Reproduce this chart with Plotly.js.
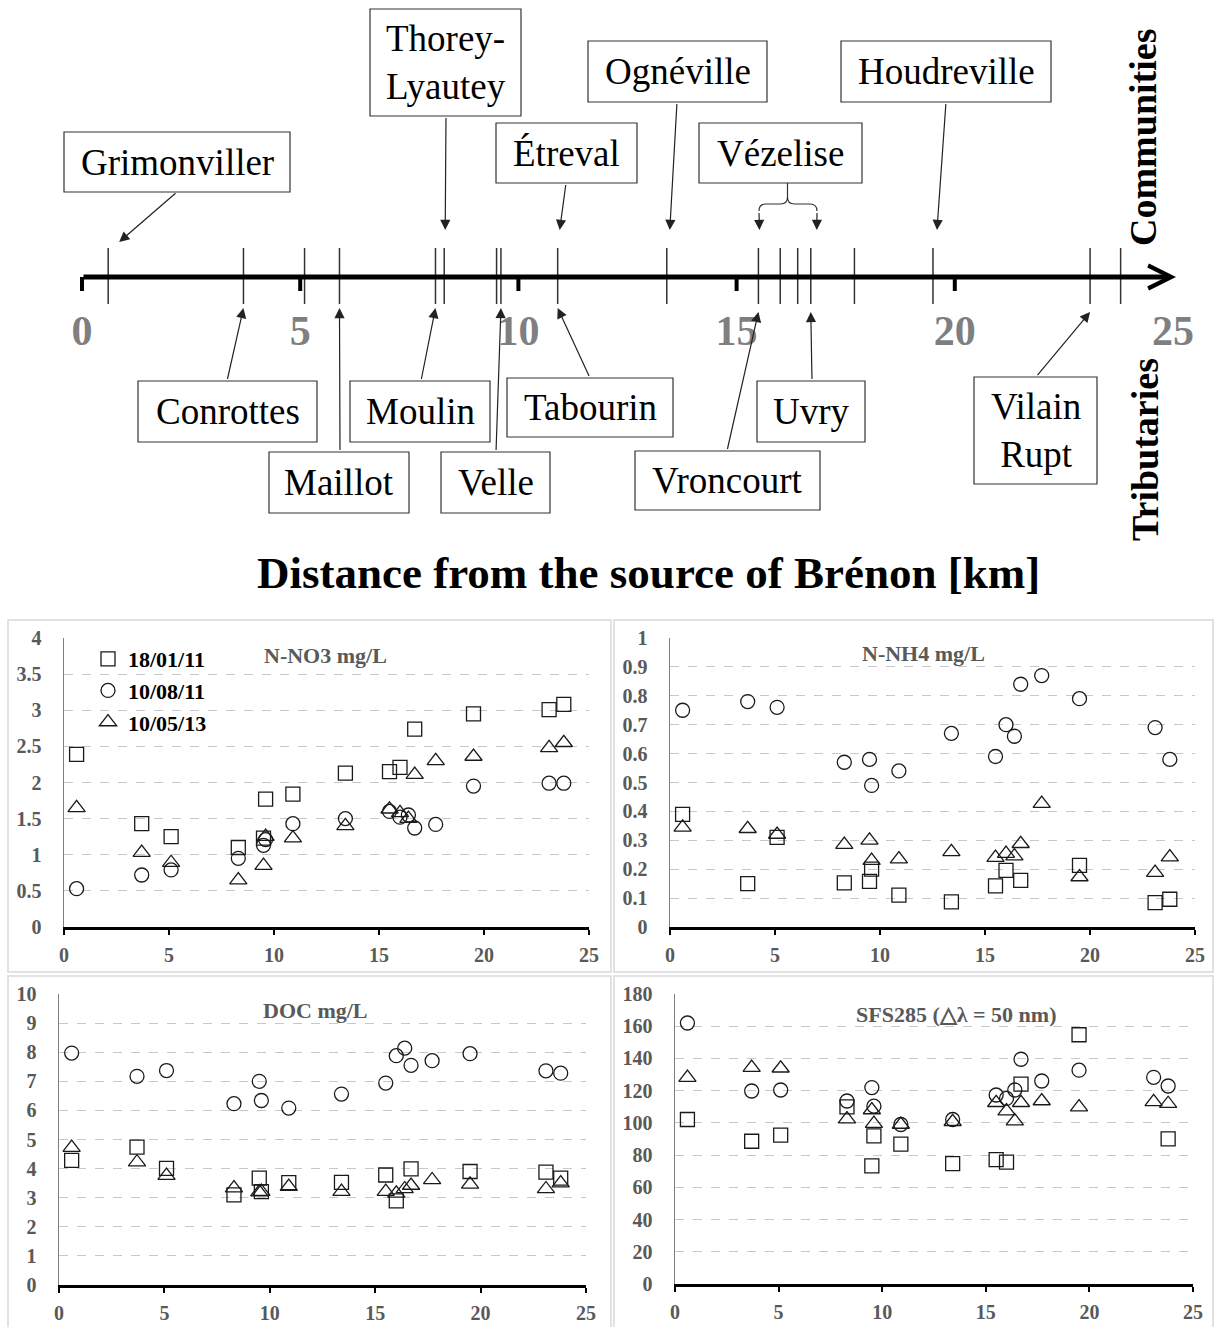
<!DOCTYPE html>
<html><head><meta charset="utf-8">
<script src="https://cdn.plot.ly/plotly-3.0.1.min.js"></script>
<style>html,body{margin:0;padding:0;background:#fff}#chart{width:1215px;height:1327px}</style>
</head><body><div id="chart"></div>
<script>
// ---------------- DATA ----------------
const siteKm = [0.6, 3.7, 5.1, 8.3, 9.5, 9.6, 10.9, 13.4, 15.5, 16.0, 16.4, 16.7, 17.7, 19.5, 23.1, 23.8];
const dates = ['18/01/11', '10/08/11', '10/05/13'];

const no3_180111 = [2.39, 1.43, 1.25, 1.10, 1.23, 1.77, 1.84, 2.13, 2.15, 2.21, null, 2.74, null, 2.95, 3.01, 3.08];
const no3_100811 = [0.53, 0.72, 0.79, 0.95, 1.13, 1.21, 1.43, 1.50, 1.60, 1.52, 1.55, 1.37, 1.42, 1.95, 1.99, 1.99];
const no3_100513 = [1.65, 1.03, 0.89, 0.65, 0.85, 1.25, 1.23, 1.40, 1.63, 1.58, 1.50, 2.11, 2.30, 2.36, 2.48, 2.55];

const nh4_180111 = [0.39, 0.15, 0.31, 0.153, 0.158, 0.20, 0.11, 0.087, 0.142, 0.196, null, 0.161, null, 0.213, 0.084, 0.096];
const nh4_100811 = [0.75, 0.78, 0.76, 0.57, 0.58, 0.49, 0.54, 0.67, 0.59, 0.70, 0.66, 0.84, 0.87, 0.79, 0.69, 0.58];
const nh4_100513 = [0.345, 0.34, 0.32, 0.285, 0.30, 0.23, 0.235, 0.26, 0.24, 0.254, 0.245, 0.288, 0.427, 0.173, 0.188, 0.242];

const doc_180111 = [4.28, 4.74, 4.01, 3.10, 3.67, 3.21, 3.52, 3.53, 3.78, 2.89, null, 3.99, null, 3.90, 3.88, 3.67];
const doc_100811 = [7.97, 7.17, 7.37, 6.23, 7.00, 6.34, 6.08, 6.56, 6.94, 7.88, 8.14, 7.55, 7.71, 7.95, 7.36, 7.28];
const doc_100513 = [4.72, 4.22, 3.76, 3.33, 3.19, 3.21, 3.38, 3.21, 3.21, 3.15, 3.30, 3.42, 3.61, 3.46, 3.30, 3.50];

const sfs_180111 = [102.1, 88.6, 92.4, 110.0, 73.3, 92.0, 86.8, 74.7, 77.2, 75.6, null, 124.1, null, 154.7, null, 90.1];
const sfs_100811 = [162.0, 119.8, 120.4, 113.6, 121.9, 110.4, 99.0, 102.1, 117.3, 115.2, 120.4, 139.5, 126.0, 132.7, 128.3, 122.9];
const sfs_100513 = [128.1, 134.3, 133.9, 102.3, 108.0, 99.6, 99.0, 100.7, 112.5, 107.3, 101.1, 112.5, 113.6, 109.8, 113.1, 111.9];

const panelTitles = ['N-NO3 mg/L', 'N-NH4 mg/L', 'DOC mg/L', 'SFS285 (△λ = 50 nm)'];

// schematic of the river
const tickKm = [0.6, 3.7, 5.1, 5.9, 8.1, 8.3, 9.5, 9.6, 10.9, 13.4, 15.5, 16.0, 16.4, 16.7, 17.7, 19.5, 23.1, 23.8];
const kmTicks = [0, 5, 10, 15, 20, 25];
const communities = ['Grimonviller', 'Thorey-<br>Lyautey', 'Étreval', 'Ognéville', 'Vézelise', 'Houdreville'];
const communityKm = [[0.6], [8.3], [10.9], [13.4], [15.5, 16.7], [19.5]];
const tributaries = ['Conrottes', 'Maillot', 'Moulin', 'Velle', 'Tabourin', 'Vroncourt', 'Uvry', 'Vilain<br>Rupt'];
const tributaryKm = [3.7, 5.9, 8.1, 9.6, 10.9, 15.5, 16.7, 23.1];
const diagramTitle = 'Distance from the source of Brénon [km]';

// ---------------- LAYOUT HELPERS (pixel geometry) ----------------
const W = 1215, H = 1327;
const F = 'Liberation Serif, "Times New Roman", serif';
const KM0 = 82, PXKM = 43.64;          // river axis: px = KM0 + km*PXKM
const kmOf = px => (px - KM0) / PXKM;
const pxOf = km => KM0 + km * PXKM;
const AXY = 277;                       // river axis y (px)

const communityBoxes = [
  {x0: 64, x1: 290, y0: 132, y1: 192, tails: [[177, 192]], tipY: 242, dx: [11]},
  {x0: 370, x1: 521, y0: 9, y1: 116, tails: [[446, 116]], tipY: 230, dx: [1]},
  {x0: 496, x1: 637, y0: 123, y1: 183, tails: [[566, 183]], tipY: 230, dx: [2]},
  {x0: 588, x1: 767, y0: 41, y1: 102, tails: [[677, 102]], tipY: 230, dx: [3]},
  {x0: 699, x1: 862, y0: 123, y1: 183, tails: [[759, 211], [817, 211]], tipY: 230, dx: [1, 6], brace: true},
  {x0: 841, x1: 1051, y0: 41, y1: 102, tails: [[946, 102]], tipY: 230, dx: [4]}
];
const tributaryBoxes = [
  {x0: 138, x1: 317, y0: 381, y1: 442, tail: [227, 381], tipY: 308},
  {x0: 269, x1: 409, y0: 452, y1: 513, tail: [340, 452], tipY: 308},
  {x0: 350, x1: 490, y0: 381, y1: 442, tail: [421, 381], tipY: 308},
  {x0: 441, x1: 550, y0: 452, y1: 513, tail: [496, 452], tipY: 308},
  {x0: 507, x1: 673, y0: 378, y1: 437, tail: [590, 378], tipY: 308},
  {x0: 635, x1: 820, y0: 451, y1: 510, tail: [727, 451], tipY: 312},
  {x0: 757, x1: 865, y0: 381, y1: 442, tail: [812, 381], tipY: 312},
  {x0: 974, x1: 1097, y0: 377, y1: 484, tail: [1036, 377], tipY: 312}
];

// panel plot areas in px: [xLeft, xRight], [yTop, yBottom]
const panelPx = [
  {x: [64, 589], y: [638, 927], range: [0, 4], dtick: 0.5, title: [325, 655]},
  {x: [670, 1195], y: [638, 927], range: [0, 1], dtick: 0.1, title: [923, 653]},
  {x: [59, 586], y: [994, 1285], range: [0, 10], dtick: 1, title: [315, 1010]},
  {x: [675, 1193], y: [994, 1284], range: [0, 180], dtick: 20, title: [956, 1015]}
];
const panelFrames = [[8, 611, 620, 972], [614, 1213, 620, 972], [8, 611, 976, 1330], [614, 1213, 976, 1330]];

// ---------------- TRACES ----------------
const traces = [];
const sym = ['square-open', 'circle-open', 'triangle-up-open'];
const msize = [14, 14, 15];
const series = [
  [no3_180111, no3_100811, no3_100513],
  [nh4_180111, nh4_100811, nh4_100513],
  [doc_180111, doc_100811, doc_100513],
  [sfs_180111, sfs_100811, sfs_100513]
];
series.forEach((set, pi) => {
  const sfx = pi === 0 ? '' : String(pi + 1);
  set.forEach((vals, di) => {
    traces.push({
      type: 'scatter', mode: 'markers', x: siteKm, y: vals,
      xaxis: 'x' + sfx, yaxis: 'y' + sfx,
      name: dates[di], legendgroup: dates[di], showlegend: pi === 0,
      marker: {symbol: sym[di], size: msize[di], color: '#1a1a1a', line: {width: 1.3, color: '#1a1a1a'}},
      cliponaxis: false
    });
  });
});
// river tick marks (tributaries / communities positions)
const tx = [], ty = [];
tickKm.forEach(k => { tx.push(k, k, null); ty.push(248, 304, null); });
traces.push({type: 'scatter', mode: 'lines', x: tx, y: ty, xaxis: 'x5', yaxis: 'y5',
  line: {color: '#333', width: 1.5}, showlegend: false, hoverinfo: 'skip'});

// ---------------- LAYOUT ----------------
const layout = {
  width: W, height: H, margin: {l: 0, r: 0, t: 0, b: 0},
  paper_bgcolor: '#fff', plot_bgcolor: 'rgba(0,0,0,0)',
  font: {family: F},
  showlegend: true,
  legend: {x: 88 / W, y: (H - 638) / H, xanchor: 'left', yanchor: 'top',
    bgcolor: 'rgba(0,0,0,0)', itemwidth: 30, tracegroupgap: 0,
    font: {family: F, size: 22, color: '#000', weight: 'bold'}},
  shapes: [], annotations: []
};

const tickFont = {family: F, size: 20, color: '#595959', weight: 'bold'};
panelPx.forEach((p, i) => {
  const sfx = i === 0 ? '' : String(i + 1);
  const xd = [p.x[0] / W, p.x[1] / W];
  const yd = [(H - p.y[1]) / H, (H - p.y[0]) / H];
  layout['xaxis' + sfx] = {domain: xd, range: [0, 25], anchor: 'y' + sfx,
    tickvals: [0, 5, 10, 15, 20, 25], ticks: 'outside', ticklen: 5, tickwidth: 2, tickcolor: '#000',
    showline: true, linecolor: '#000', linewidth: 2.5, showgrid: false, zeroline: false,
    tickfont: tickFont, ticklabelstandoff: 3, fixedrange: true};
  layout['yaxis' + sfx] = {domain: yd, range: p.range, anchor: 'x' + sfx,
    tick0: 0, dtick: p.dtick, ticks: '', showline: true, linecolor: '#808080', linewidth: 1.5,
    showgrid: true, gridcolor: '#c8c8c8', griddash: 'dash', gridwidth: 1, zeroline: false,
    tickfont: tickFont, ticklabelstandoff: 17, fixedrange: true};
  // x-axis arrow
  layout.annotations.push({xref: 'x' + sfx, yref: 'y' + sfx, x: 25.1, y: 0, ax: -22, ay: 0,
    text: ' ', font: {size: 1}, showarrow: true, arrowhead: 5, arrowwidth: 2.2, arrowsize: 1.1, arrowcolor: '#000'});
  // panel title
  layout.annotations.push({xref: 'paper', yref: 'paper', x: p.title[0] / W, y: (H - p.title[1]) / H,
    xanchor: 'center', yanchor: 'middle',
    text: panelTitles[i], showarrow: false, font: {family: F, size: 22, color: '#595959', weight: 'bold'}});
});

// overlay pixel axes for the river schematic
layout.xaxis5 = {domain: [0, 1], range: [kmOf(0), kmOf(W)], anchor: 'free', position: (H - AXY) / H,
  tickvals: kmTicks, ticks: '', showline: false, showgrid: false, zeroline: false,
  tickfont: {family: F, size: 42, color: '#7f7f7f', weight: 'bold'}, ticklabelstandoff: 25, fixedrange: true};
layout.yaxis5 = {domain: [0, 1], range: [H, 0], anchor: 'x5', visible: false, fixedrange: true};

const S = layout.shapes, A = layout.annotations;
// panel frames
panelFrames.forEach(f => S.push({type: 'rect', xref: 'x5', yref: 'y5', x0: kmOf(f[0]), x1: kmOf(f[1]), y0: f[2], y1: f[3],
  line: {color: '#d9d9d9', width: 1.5}, layer: 'below'}));
// major tick stubs on river axis
kmTicks.filter(k => k < 25).forEach(k => S.push({type: 'line', xref: 'x5', yref: 'y5', x0: k, x1: k, y0: AXY, y1: AXY + 14,
  line: {color: '#000', width: 4}}));
// main river axis with arrow
A.push({xref: 'x5', yref: 'y5', x: kmOf(1176), y: AXY, ax: pxOf(0) - 1176, ay: 0, text: ' ', font: {size: 1},
  showarrow: true, arrowhead: 5, arrowwidth: 5, arrowsize: 0.9, arrowcolor: '#000'});

const boxLine = {color: '#333', width: 1.2};
const arrowStyle = {showarrow: true, arrowhead: 2, arrowsize: 1.7, arrowwidth: 1.2, arrowcolor: '#222', text: ' ', font: {size: 1}};
const labelFont = {family: F, size: 37, color: '#000'};

function drawBox(b, label) {
  S.push({type: 'rect', xref: 'x5', yref: 'y5', x0: kmOf(b.x0), x1: kmOf(b.x1), y0: b.y0, y1: b.y1, line: boxLine, fillcolor: '#fff'});
  A.push({xref: 'x5', yref: 'y5', x: kmOf((b.x0 + b.x1) / 2), y: (b.y0 + b.y1) / 2, text: label, showarrow: false,
    xanchor: 'center', yanchor: 'middle', font: labelFont, align: 'center'});
}
communities.forEach((name, i) => {
  const b = communityBoxes[i];
  drawBox(b, name);
  communityKm[i].forEach((k, j) => {
    const tipPx = pxOf(k) + b.dx[j];
    const t = b.tails[j];
    A.push(Object.assign({xref: 'x5', yref: 'y5', x: kmOf(tipPx), y: b.tipY, ax: t[0] - tipPx, ay: t[1] - b.tipY}, arrowStyle));
  });
  if (b.brace) {
    const c = (b.x0 + b.x1) / 2 + 7, L = b.tails[0][0], R = b.tails[1][0];
    const p = (x, y) => kmOf(x) + ',' + y;
    S.push({type: 'path', xref: 'x5', yref: 'y5', line: boxLine,
      path: 'M' + p(c, b.y1) + ' L' + p(c, 197) + ' Q' + p(c, 204) + ' ' + p(c - 7, 204) + ' L' + p(L + 7, 204) +
        ' Q' + p(L, 204) + ' ' + p(L, 211) + ' M' + p(c, 197) + ' Q' + p(c, 204) + ' ' + p(c + 7, 204) +
        ' L' + p(R - 7, 204) + ' Q' + p(R, 204) + ' ' + p(R, 211)});
  }
});
tributaries.forEach((name, i) => {
  const b = tributaryBoxes[i];
  drawBox(b, name);
  const tipPx = pxOf(tributaryKm[i]);
  A.push(Object.assign({xref: 'x5', yref: 'y5', x: tributaryKm[i], y: b.tipY, ax: b.tail[0] - tipPx, ay: b.tail[1] - b.tipY}, arrowStyle));
});

// side labels and title
A.push({xref: 'x5', yref: 'y5', x: kmOf(1143), y: 138, text: 'Communities', textangle: -90, showarrow: false,
  font: {family: F, size: 38, color: '#000', weight: 'bold'}});
A.push({xref: 'x5', yref: 'y5', x: kmOf(1145), y: 450, text: 'Tributaries', textangle: -90, showarrow: false,
  font: {family: F, size: 38, color: '#000', weight: 'bold'}});
A.push({xref: 'x5', yref: 'y5', x: kmOf(648), y: 573, text: diagramTitle, showarrow: false,
  xanchor: 'center', yanchor: 'middle', font: {family: F, size: 45, color: '#000', weight: 'bold'}});

Plotly.newPlot('chart', traces, layout, {staticPlot: true, displayModeBar: false});
</script>
</body></html>
